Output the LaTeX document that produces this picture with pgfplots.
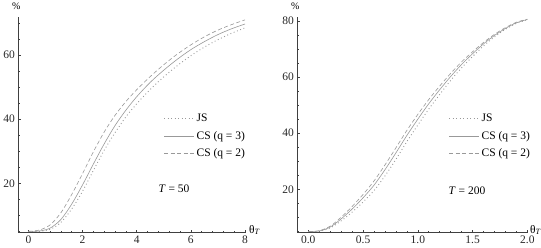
\documentclass[border=0pt]{standalone}
\usepackage{fontspec}
\setmainfont{Liberation Serif}
\usepackage{pgfplots}
\pgfplotsset{compat=1.18}
\definecolor{cg}{gray}{0.6}
\definecolor{ax}{gray}{0.25}
\newcommand{\ff}{\fontsize{11.5}{13.5}\selectfont}
\pgfplotsset{
  base/.style={
    scale only axis, height=216pt,
    axis lines=left,
    axis line style={ax, line width=0.7pt, -},
    tick align=inside, major tick length=3pt, minor tick length=1.6pt,
    tick style={ax, line width=0.6pt},
    every tick label/.append style={font=\ff, text=black!85},
    /pgf/number format/assume math mode=true,
    clip=false,
    legend cell align=left,
    legend style={draw=none, fill=none, inner sep=0pt, font=\ff, row sep=4pt, anchor=north west},
    legend image code/.code={\draw[##1] (0pt,0pt) -- (30pt,0pt);},
    every axis y label/.style={at={(rel axis cs:0,1)}, anchor=south, yshift=3pt, xshift=-2pt, font=\fontsize{10}{12}\selectfont},
    every axis x label/.style={at={(rel axis cs:1,0)}, anchor=base west, inner sep=0pt, xshift=2.5pt, yshift=-0.5pt, font=\ff},
    ylabel={\%}, xlabel={θ\textsubscript{\textit{T}}},
  },
  js/.style={cg, line width=0.9pt, dash pattern=on 0.9pt off 2.6pt, smooth},
  q3/.style={cg, line width=0.6pt, smooth},
  q2/.style={cg, line width=0.6pt, dash pattern=on 4pt off 2.5pt, smooth},
}
\begin{document}
\begin{tikzpicture}
\begin{axis}[base, at={(17pt,0pt)}, anchor=south west, width=228pt,
  xmin=-0.37, xmax=8.05, ymin=4.6, ymax=72,
  xtick={0,2,4,6,8}, minor xtick={0.4,0.8,1.2,1.6,2.4,2.8,3.2,3.6,4.4,4.8,5.2,5.6,6.4,6.8,7.2,7.6},
  ytick={20,40,60}, minor ytick={5,10,15,25,30,35,45,50,55,65,70},
  legend style={at={(axis cs:4.99,42.2)}}]
\addplot[js] coordinates {(0,5.0) (0.4,5.0) (0.8,5.6) (1.2,7.8) (1.6,12.0) (2.0,17.5) (2.4,24.0) (2.8,30.3) (3.2,35.8) (3.6,40.7) (4.0,44.8) (4.5,49.3) (5.0,53.2) (5.5,56.7) (6.0,59.8) (6.5,62.5) (7.0,64.8) (7.5,66.8) (8.0,68.5)};
\addlegendentry{JS}
\addplot[q3] coordinates {(0,5.0) (0.4,5.1) (0.8,6.0) (1.2,8.7) (1.6,13.5) (2.0,19.5) (2.4,26.0) (2.8,32.3) (3.2,38.0) (3.6,42.8) (4.0,47.0) (4.5,51.5) (5.0,55.3) (5.5,58.7) (6.0,61.7) (6.5,64.2) (7.0,66.4) (7.5,68.2) (8.0,69.7)};
\addlegendentry{CS (q = 3)}
\addplot[q2] coordinates {(0,5.0) (0.4,5.4) (0.8,7.0) (1.2,10.8) (1.6,16.5) (2.0,23.0) (2.4,29.8) (2.8,36.0) (3.2,41.2) (3.6,45.5) (4.0,49.2) (4.5,53.3) (5.0,57.0) (5.5,60.3) (6.0,63.2) (6.5,65.7) (7.0,67.8) (7.5,69.5) (8.0,71.0)};
\addlegendentry{CS (q = 2)}
\node[anchor=west, inner sep=0pt, font=\ff] at (axis cs:4.8,18.2) {\textit{T} = 50};
\end{axis}
\begin{axis}[base, at={(296pt,0pt)}, anchor=south west, width=230pt,
  xmin=-0.1, xmax=2.0, ymin=4.6, ymax=81.5,
  xtick={0,0.5,1,1.5,2}, xticklabels={0.0,0.5,1.0,1.5,2.0},
  minor xtick={0.1,0.2,0.3,0.4,0.6,0.7,0.8,0.9,1.1,1.2,1.3,1.4,1.6,1.7,1.8,1.9},
  ytick={20,40,60,80}, minor ytick={5,10,15,25,30,35,45,50,55,65,70,75},
  legend style={at={(axis cs:1.28,47.6)}}]
\addplot[js] coordinates {(0,5.0) (0.1,5.1) (0.2,6.3) (0.3,8.8) (0.4,11.9) (0.5,15.5) (0.6,19.6) (0.7,24.8) (0.8,30.7) (0.9,37.0) (1.0,42.9) (1.1,48.6) (1.2,53.8) (1.3,58.8) (1.4,63.3) (1.5,67.3) (1.6,71.1) (1.7,74.3) (1.8,77.0) (1.9,79.1) (2.0,80.4)};
\addlegendentry{JS}
\addplot[q3] coordinates {(0,5.0) (0.1,5.2) (0.2,6.6) (0.3,9.5) (0.4,13.0) (0.5,17.0) (0.6,21.5) (0.7,27.0) (0.8,33.0) (0.9,39.2) (1.0,45.0) (1.1,50.5) (1.2,55.5) (1.3,60.2) (1.4,64.5) (1.5,68.3) (1.6,71.8) (1.7,74.8) (1.8,77.3) (1.9,79.3) (2.0,80.5)};
\addlegendentry{CS (q = 3)}
\addplot[q2] coordinates {(0,5.0) (0.1,5.3) (0.2,6.9) (0.3,10.1) (0.4,13.9) (0.5,18.2) (0.6,23.0) (0.7,28.7) (0.8,34.8) (0.9,41.0) (1.0,46.7) (1.1,52.0) (1.2,56.8) (1.3,61.3) (1.4,65.4) (1.5,69.0) (1.6,72.3) (1.7,75.2) (1.8,77.6) (1.9,79.5) (2.0,80.6)};
\addlegendentry{CS (q = 2)}
\node[anchor=west, inner sep=0pt, font=\ff] at (axis cs:1.28,19.4) {\textit{T} = 200};
\end{axis}
\end{tikzpicture}
\end{document}
